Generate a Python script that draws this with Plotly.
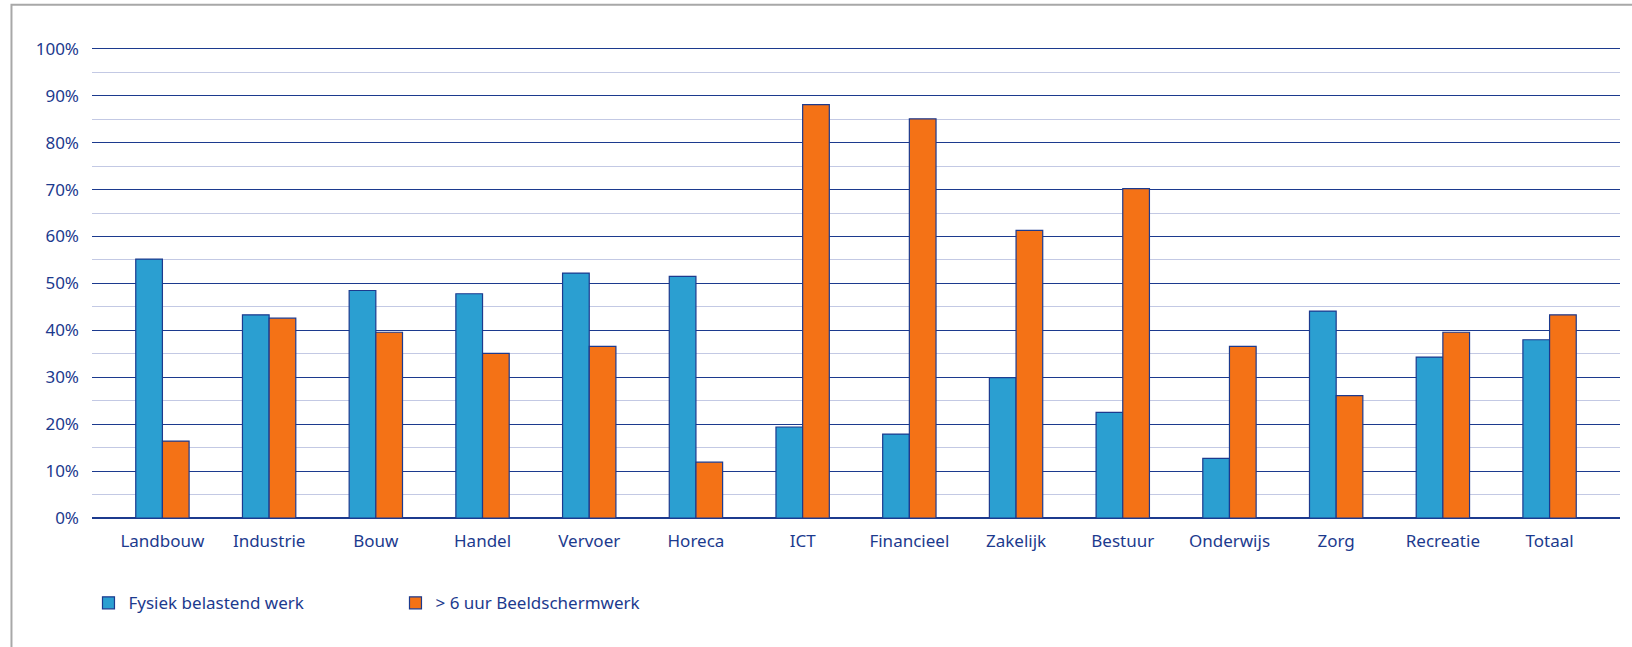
import plotly.graph_objects as go

categories = ["Landbouw", "Industrie", "Bouw", "Handel", "Vervoer", "Horeca", "ICT",
              "Financieel", "Zakelijk", "Bestuur", "Onderwijs", "Zorg", "Recreatie", "Totaal"]
fysiek = [55.2, 43.3, 48.5, 47.8, 52.2, 51.5, 19.4, 17.9, 29.9, 22.5, 12.7, 44.1, 34.3, 38.0]
beeldscherm = [16.4, 42.6, 39.6, 35.1, 36.6, 11.9, 88.1, 85.1, 61.3, 70.2, 36.6, 26.1, 39.6, 43.3]
y_ticks = [0, 10, 20, 30, 40, 50, 60, 70, 80, 90, 100]
y_labels = [f"{v}%" for v in y_ticks]

NAVY = "#1c3a8e"
BLUE = "#2b9fd1"
ORANGE = "#f47216"

fig = go.Figure()
fig.add_trace(go.Bar(x=categories, y=fysiek, name="Fysiek belastend werk",
                     marker=dict(color=BLUE, line=dict(color=NAVY, width=1.2))))
fig.add_trace(go.Bar(x=categories, y=beeldscherm, name="> 6 uur Beeldschermwerk",
                     marker=dict(color=ORANGE, line=dict(color=NAVY, width=1.2))))

fig.update_layout(
    width=1632, height=647,
    margin=dict(l=91.5, r=12, t=47.1, b=129),
    paper_bgcolor="white", plot_bgcolor="white",
    font=dict(family="Noto Sans", size=17, color=NAVY),
    barmode="group", bargap=0.5, bargroupgap=0,
    showlegend=True,
    legend=dict(orientation="h", x=-0.0023, xanchor="left", y=-0.181, yanchor="middle",
                font=dict(size=17, color=NAVY), entrywidth=262, entrywidthmode="pixels",
                traceorder="normal"),
    xaxis=dict(range=[-0.66, 13.66], showgrid=False, showline=False, zeroline=False,
               ticks="", tickfont=dict(size=17, color=NAVY), ticklabelstandoff=11),
    yaxis=dict(range=[0, 100.4], tickvals=y_ticks, ticktext=y_labels,
               showgrid=True, gridcolor=NAVY, gridwidth=1.2,
               zeroline=True, zerolinecolor=NAVY, zerolinewidth=1.5,
               showline=False, ticks="", tickfont=dict(size=17, color=NAVY),
               ticklabelstandoff=12,
               minor=dict(dtick=5, tick0=0, showgrid=True, gridcolor="#c3c9e4", gridwidth=1.2)),
    shapes=[dict(type="rect", xref="paper", yref="paper",
                 x0=-0.0527, x1=1.2, y0=-1.0, y1=1.0896,
                 line=dict(color="#a8a8a8", width=2), fillcolor="rgba(0,0,0,0)", layer="below")],
)

fig.write_html("out.html", config={"displayModeBar": False},
               post_script="document.body.style.margin='0px';")
